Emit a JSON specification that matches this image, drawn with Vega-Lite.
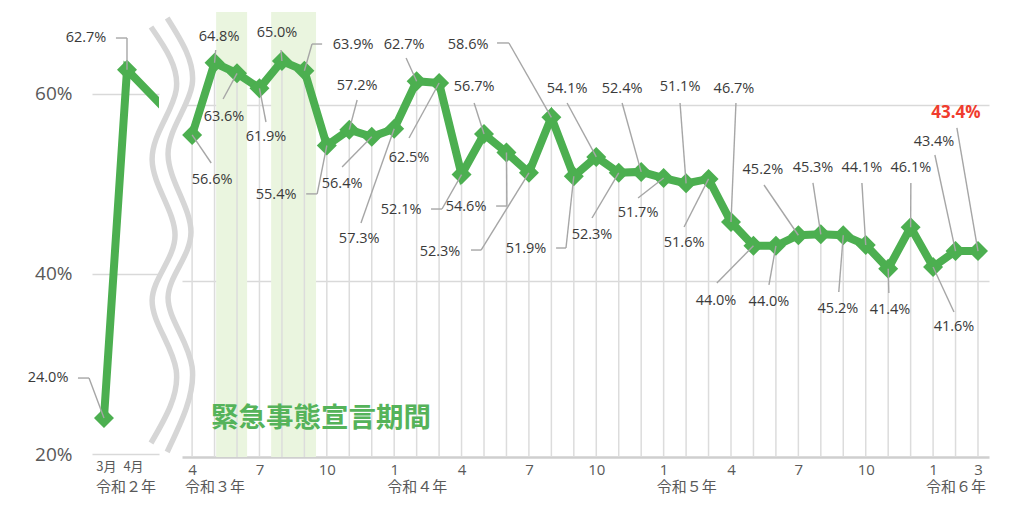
{
  "$schema": "https://vega.github.io/schema/vega-lite/v6.json",
  "padding": {"left": 27, "top": 6, "right": 4, "bottom": 4},
  "background": "white",
  "datasets": {
    "early": [
      {"m": 0, "rate": 24.0},
      {"m": 1, "rate": 62.7},
      {"m": 3, "rate": 57.4}
    ],
    "early_callouts": [
      {"m": 0, "tx": -2.43, "ty": 28.44, "bx": -1.13, "ax": -0.65, "ay": 28.44},
      {"m": 1, "tx": -0.78, "ty": 66.22, "bx": 0.52, "ax": 1.0, "ay": 66.22}
    ],
    "early_years": [
      {"m": 0, "text": "令和２年"}
    ],
    "rates": [
      {"m": 0, "rate": 56.6}, {"m": 1, "rate": 64.8}, {"m": 2, "rate": 63.6},
      {"m": 3, "rate": 61.9}, {"m": 4, "rate": 65.0}, {"m": 5, "rate": 63.9},
      {"m": 6, "rate": 55.4}, {"m": 7, "rate": 57.2}, {"m": 8, "rate": 56.4},
      {"m": 9, "rate": 57.3}, {"m": 10, "rate": 62.7}, {"m": 11, "rate": 62.5},
      {"m": 12, "rate": 52.1}, {"m": 13, "rate": 56.7}, {"m": 14, "rate": 54.6},
      {"m": 15, "rate": 52.3}, {"m": 16, "rate": 58.6}, {"m": 17, "rate": 51.9},
      {"m": 18, "rate": 54.1}, {"m": 19, "rate": 52.3}, {"m": 20, "rate": 52.4},
      {"m": 21, "rate": 51.7}, {"m": 22, "rate": 51.1}, {"m": 23, "rate": 51.6},
      {"m": 24, "rate": 46.7}, {"m": 25, "rate": 44.0}, {"m": 26, "rate": 44.0},
      {"m": 27, "rate": 45.2}, {"m": 28, "rate": 45.3}, {"m": 29, "rate": 45.2},
      {"m": 30, "rate": 44.1}, {"m": 31, "rate": 41.4}, {"m": 32, "rate": 46.1},
      {"m": 33, "rate": 41.6}, {"m": 34, "rate": 43.4}, {"m": 35, "rate": 43.4}
    ],
    "callouts": [
      {"m": 0, "tx": 0.89, "ty": 51.48, "ax": 0.85, "ay": 53.41},
      {"m": 1, "tx": 1.2, "ty": 67.73, "ax": 1.05, "ay": 66.25},
      {"m": 2, "tx": 1.42, "ty": 58.64, "ax": 1.38, "ay": 60.68},
      {"m": 3, "tx": 3.29, "ty": 56.36, "ax": 3.29, "ay": 58.07},
      {"m": 4, "tx": 3.78, "ty": 68.18, "ax": 3.96, "ay": 66.25},
      {"m": 5, "tx": 7.17, "ty": 66.82, "bx": 5.79, "ax": 5.34, "ay": 66.93},
      {"m": 6, "tx": 3.74, "ty": 49.77, "bx": 5.08, "ax": 5.57, "ay": 49.9},
      {"m": 7, "tx": 7.35, "ty": 62.16, "ax": 7.35, "ay": 60.57},
      {"m": 8, "tx": 6.68, "ty": 51.02, "ax": 6.68, "ay": 52.95},
      {"m": 9, "tx": 7.44, "ty": 44.77, "ax": 7.52, "ay": 46.59},
      {"m": 10, "tx": 9.44, "ty": 66.82, "ax": 9.53, "ay": 65.34},
      {"m": 11, "tx": 9.66, "ty": 53.98, "ax": 9.66, "ay": 56.25},
      {"m": 12, "tx": 9.31, "ty": 48.07, "bx": 10.64, "ax": 11.13, "ay": 48.18},
      {"m": 13, "tx": 12.56, "ty": 62.05, "ax": 12.56, "ay": 60.23},
      {"m": 14, "tx": 12.2, "ty": 48.41, "bx": 13.54, "ax": 14.02, "ay": 48.52},
      {"m": 15, "tx": 11.04, "ty": 43.3, "bx": 12.42, "ax": 12.87, "ay": 43.52},
      {"m": 16, "tx": 12.29, "ty": 66.82, "bx": 13.58, "ax": 14.11, "ay": 67.05},
      {"m": 17, "tx": 14.87, "ty": 43.64, "bx": 16.21, "ax": 16.65, "ay": 43.75},
      {"m": 18, "tx": 16.7, "ty": 61.82, "ax": 16.7, "ay": 60.23},
      {"m": 19, "tx": 17.81, "ty": 45.23, "ax": 17.81, "ay": 47.16},
      {"m": 20, "tx": 19.15, "ty": 61.82, "ax": 19.15, "ay": 60.23},
      {"m": 21, "tx": 19.86, "ty": 47.73, "ax": 19.86, "ay": 49.43},
      {"m": 22, "tx": 21.73, "ty": 62.05, "ax": 21.73, "ay": 60.23},
      {"m": 23, "tx": 21.91, "ty": 44.32, "ax": 21.91, "ay": 46.14},
      {"m": 24, "tx": 24.13, "ty": 61.82, "ax": 24.22, "ay": 60.23},
      {"m": 25, "tx": 23.33, "ty": 37.73, "ax": 23.37, "ay": 39.77},
      {"m": 26, "tx": 25.69, "ty": 37.61, "ax": 25.69, "ay": 39.55},
      {"m": 27, "tx": 25.42, "ty": 52.61, "ax": 25.47, "ay": 50.91},
      {"m": 28, "tx": 27.65, "ty": 52.84, "ax": 27.65, "ay": 51.14},
      {"m": 29, "tx": 28.76, "ty": 36.82, "ax": 28.8, "ay": 38.75},
      {"m": 30, "tx": 29.83, "ty": 52.84, "ax": 29.83, "ay": 51.14},
      {"m": 31, "tx": 31.08, "ty": 36.7, "ax": 31.03, "ay": 38.64},
      {"m": 32, "tx": 32.01, "ty": 52.84, "ax": 32.01, "ay": 51.14},
      {"m": 33, "tx": 33.93, "ty": 34.77, "ax": 33.93, "ay": 36.48},
      {"m": 34, "tx": 33.04, "ty": 55.8, "ax": 33.08, "ay": 54.32},
      {"m": 35, "tx": 34.02, "ty": 59.09, "ax": 34.06, "ay": 57.39}
    ],
    "bands": [
      {"from": 1.07, "to": 2.45},
      {"from": 3.52, "to": 5.52}
    ],
    "notes": [
      {"text": "緊急事態宣言期間"}
    ],
    "years": [
      {"m": 0, "text": "令和３年"},
      {"m": 9, "text": "令和４年"},
      {"m": 21, "text": "令和５年"},
      {"m": 33, "text": "令和６年"}
    ],
    "wave": [
      {"curve": "a", "k": 0, "m": -1.83, "rate": 68.86},
      {"curve": "a", "k": 1, "m": -0.71, "rate": 61.7},
      {"curve": "a", "k": 2, "m": -1.78, "rate": 53.75},
      {"curve": "a", "k": 3, "m": -0.76, "rate": 45.23},
      {"curve": "a", "k": 4, "m": -1.78, "rate": 37.84},
      {"curve": "a", "k": 5, "m": -0.71, "rate": 29.89},
      {"curve": "a", "k": 6, "m": -1.83, "rate": 21.59},
      {"curve": "b", "k": 0, "m": -1.11, "rate": 69.89},
      {"curve": "b", "k": 1, "m": 0.0, "rate": 62.27},
      {"curve": "b", "k": 2, "m": -1.07, "rate": 54.32},
      {"curve": "b", "k": 3, "m": -0.05, "rate": 45.57},
      {"curve": "b", "k": 4, "m": -1.07, "rate": 38.18},
      {"curve": "b", "k": 5, "m": 0.0, "rate": 30.23},
      {"curve": "b", "k": 6, "m": -1.11, "rate": 20.57}
    ]
  },
  "hconcat": [
    {
      "width": 67,
      "height": 442,
      "layer": [
        {
          "data": {"name": "early"},
          "mark": {"type": "line", "color": "#4CAF50", "strokeWidth": 8, "clip": true},
          "encoding": {
            "x": {
              "field": "m",
              "type": "quantitative",
              "title": null,
              "scale": {"domain": [-0.52, 2.39], "nice": false, "zero": false},
              "axis": {
                "values": [0, 1],
                "labelExpr": "datum.value == 0 ? '3月' : '4月'",
                "labelFont": "Noto Sans CJK JP",
                "labelFontSize": 13,
                "labelPadding": 6,
                "labelOffset": {"expr": "datum.value == 0 ? 2 : 6"},
                "grid": false
              }
            },
            "y": {
              "field": "rate",
              "type": "quantitative",
              "title": null,
              "scale": {"domain": [20, 69.11], "nice": false, "zero": false},
              "axis": {
                "values": [20, 40, 60],
                "labelExpr": "datum.value + '%'",
                "labelFontSize": 19,
                "labelPadding": 20,
                "grid": true,
                "gridColor": "#d9d9d9",
                "gridWidth": 1.5
              }
            }
          }
        },
        {
          "data": {"name": "early"},
          "transform": [{"filter": "datum.m <= 1"}],
          "mark": {"type": "point", "shape": "diamond", "filled": true, "size": 400, "color": "#4CAF50", "opacity": 1},
          "encoding": {
            "x": {"field": "m", "type": "quantitative", "title": null},
            "y": {"field": "rate", "type": "quantitative", "title": null}
          }
        },
        {
          "data": {"name": "early_callouts"},
          "transform": [{"lookup": "m", "from": {"data": {"name": "early"}, "key": "m", "fields": ["rate"]}}],
          "layer": [
            {
              "mark": {"type": "rule", "color": "#a6a6a6", "strokeWidth": 1.4},
              "encoding": {
                "x": {"field": "ax", "type": "quantitative", "title": null},
                "x2": {"field": "m"},
                "y": {"field": "ay", "type": "quantitative", "title": null},
                "y2": {"field": "rate"}
              }
            },
            {
              "mark": {"type": "rule", "color": "#a6a6a6", "strokeWidth": 1.4},
              "encoding": {
                "x": {"field": "bx", "type": "quantitative", "title": null},
                "x2": {"field": "ax"},
                "y": {"field": "ay", "type": "quantitative", "title": null}
              }
            },
            {
              "mark": {"type": "text", "fontSize": 14.5, "color": "#3a3a3a", "baseline": "middle", "text": {"expr": "format(datum.rate, '.1f') + '%'"}},
              "encoding": {
                "x": {"field": "tx", "type": "quantitative", "title": null},
                "y": {"field": "ty", "type": "quantitative", "title": null}
              }
            }
          ]
        },
        {
          "data": {"name": "early_years"},
          "mark": {"type": "text", "font": "Noto Sans CJK JP", "fontSize": 15, "color": "#595959", "align": "left", "baseline": "middle", "dx": -8, "dy": 33},
          "encoding": {
            "x": {"field": "m", "type": "quantitative", "title": null},
            "y": {"datum": 20, "type": "quantitative"},
            "text": {"field": "text"}
          }
        }
      ]
    },
    {
      "width": 807,
      "height": 445,
      "layer": [
        {
          "data": {"name": "bands"},
          "mark": {"type": "rect", "color": "#EAF5DF"},
          "encoding": {
            "x": {
              "field": "from",
              "type": "quantitative",
              "title": null,
              "scale": {"domain": [-0.45, 35.49], "nice": false, "zero": false},
              "axis": {
                "values": [0, 3, 6, 9, 12, 15, 18, 21, 24, 27, 30, 33, 35],
                "labelExpr": "((datum.value + 3) % 12) + 1",
                "labelFontSize": 15,
                "labelPadding": 5,
                "grid": false
              }
            },
            "x2": {"field": "to"}
          }
        },
        {
          "data": {"name": "rates"},
          "mark": {"type": "rule", "color": "#dcdcdc", "strokeWidth": 1.5},
          "encoding": {
            "x": {"field": "m", "type": "quantitative", "title": null},
            "y": {
              "field": "rate",
              "type": "quantitative",
              "title": null,
              "scale": {"domain": [20, 70.57], "nice": false, "zero": false},
              "axis": {
                "values": [20, 40, 60],
                "labels": false,
                "grid": true,
                "gridColor": {"expr": "datum.value == 20 ? '#cfcfcf' : '#d9d9d9'"},
                "gridWidth": {"expr": "datum.value == 20 ? 2.5 : 1.5"}
              }
            },
            "y2": {"datum": 20}
          }
        },
        {
          "data": {"name": "wave"},
          "mark": {"type": "line", "color": "#d6d6d6", "strokeWidth": 5.5, "interpolate": "natural"},
          "encoding": {
            "x": {"field": "m", "type": "quantitative", "title": null},
            "y": {"field": "rate", "type": "quantitative", "title": null},
            "detail": {"field": "curve"},
            "order": {"field": "k"}
          }
        },
        {
          "data": {"name": "notes"},
          "mark": {"type": "text", "font": "Noto Sans CJK JP", "fontWeight": "bold", "fontSize": 27.5, "color": "#55B35A", "baseline": "middle"},
          "encoding": {
            "x": {"datum": 5.74, "type": "quantitative"},
            "y": {"datum": 24.3, "type": "quantitative"},
            "text": {"field": "text"}
          }
        },
        {
          "data": {"name": "rates"},
          "layer": [
            {"mark": {"type": "line", "color": "#4CAF50", "strokeWidth": 8}},
            {"mark": {"type": "point", "shape": "diamond", "filled": true, "size": 400, "color": "#4CAF50", "opacity": 1}}
          ],
          "encoding": {
            "x": {"field": "m", "type": "quantitative", "title": null},
            "y": {"field": "rate", "type": "quantitative", "title": null}
          }
        },
        {
          "data": {"name": "callouts"},
          "transform": [{"lookup": "m", "from": {"data": {"name": "rates"}, "key": "m", "fields": ["rate"]}}],
          "layer": [
            {
              "mark": {"type": "rule", "color": "#a6a6a6", "strokeWidth": 1.4},
              "encoding": {
                "x": {"field": "ax", "type": "quantitative", "title": null},
                "x2": {"field": "m"},
                "y": {"field": "ay", "type": "quantitative", "title": null},
                "y2": {"field": "rate"}
              }
            },
            {
              "transform": [{"filter": "isValid(datum.bx)"}],
              "mark": {"type": "rule", "color": "#a6a6a6", "strokeWidth": 1.4},
              "encoding": {
                "x": {"field": "bx", "type": "quantitative", "title": null},
                "x2": {"field": "ax"},
                "y": {"field": "ay", "type": "quantitative", "title": null}
              }
            },
            {
              "transform": [{"filter": "datum.m != 35"}],
              "mark": {"type": "text", "fontSize": 14.5, "color": "#3a3a3a", "baseline": "middle", "text": {"expr": "format(datum.rate, '.1f') + '%'"}},
              "encoding": {
                "x": {"field": "tx", "type": "quantitative", "title": null},
                "y": {"field": "ty", "type": "quantitative", "title": null}
              }
            },
            {
              "transform": [{"filter": "datum.m == 35"}],
              "mark": {"type": "text", "fontSize": 17, "fontWeight": "bold", "color": "#F03C2E", "baseline": "middle", "text": {"expr": "format(datum.rate, '.1f') + '%'"}},
              "encoding": {
                "x": {"field": "tx", "type": "quantitative", "title": null},
                "y": {"field": "ty", "type": "quantitative", "title": null}
              }
            }
          ]
        },
        {
          "data": {"name": "years"},
          "mark": {"type": "text", "font": "Noto Sans CJK JP", "fontSize": 15, "color": "#595959", "align": "left", "baseline": "middle", "dx": -7, "dy": 30},
          "encoding": {
            "x": {"field": "m", "type": "quantitative", "title": null},
            "y": {"datum": 20, "type": "quantitative"},
            "text": {"field": "text"}
          }
        }
      ]
    }
  ],
  "spacing": 23,
  "bounds": "flush",
  "config": {
    "view": {"stroke": null},
    "font": "Open Sans",
    "text": {"font": "Open Sans"},
    "axis": {
      "labelFont": "Open Sans",
      "labelColor": "#595959",
      "domain": false,
      "ticks": false
    },
    "axisX": {"labelAngle": 0}
  }
}
